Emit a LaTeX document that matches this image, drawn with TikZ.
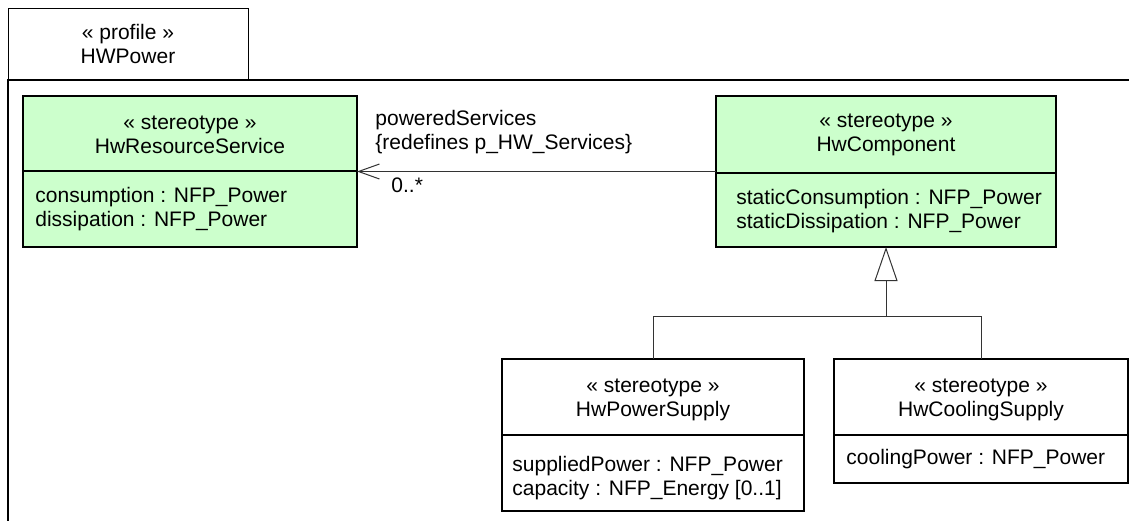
\documentclass[tikz,border=0pt]{standalone}
\usepackage{fontspec}
\setmainfont{Liberation Sans}
\usetikzlibrary{arrows.meta}
\definecolor{stereogreen}{RGB}{204,255,204}

\begin{document}
\begin{tikzpicture}[x=0.5pt,y=-0.5pt,line join=miter,
  classbox/.style={draw=black,line width=0.6pt,inner sep=0pt,outer sep=0pt},
  txt/.style={font=\fontsize{10.5pt}{12pt}\selectfont,inner sep=0pt,align=center},
  attrs/.style={txt,align=left,anchor=west},
  conn/.style={black!80,line width=0.5pt},
  frame/.style={line width=0.9pt}]
  \useasboundingbox (0,0) rectangle (1129,521);
  % profile frame and its tab
  \node[draw,line width=0.5pt,outer sep=0pt,minimum width=120pt,minimum height=36pt,txt]
    (tab) at (128,44) {« profile »\\HWPower};
  \draw[frame] (1129,80) -- (tab.south west) -- (8,521);
  % stereotypes
  \node[classbox,fill=stereogreen,minimum width=167pt,minimum height=75.5pt] (hrs) at (190,171.5) {};
  \draw[classbox] (hrs.west |- 0,171) -- (hrs.east |- 0,171);
  \node[txt] (hrs-name) at (190,135) {« stereotype »\\HwResourceService};
  \node[attrs] (hrs-attr) at (35,209) {consumption : NFP\_Power\\dissipation : NFP\_Power};
  \node[classbox,fill=stereogreen,minimum width=170pt,minimum height=75.5pt] (hc) at (886,171.5) {};
  \draw[classbox] (hc.west |- 0,173) -- (hc.east |- 0,173);
  \node[txt] (hc-name) at (886,135) {« stereotype »\\HwComponent};
  \node[attrs] (hc-attr) at (736,211) {staticConsumption : NFP\_Power\\staticDissipation : NFP\_Power};
  \node[classbox,fill=white,minimum width=151pt,minimum height=76pt] (hps) at (653,435) {};
  \draw[classbox] (hps.west |- 0,435) -- (hps.east |- 0,435);
  \node[txt] (hps-name) at (653,400) {« stereotype »\\HwPowerSupply};
  \node[attrs] (hps-attr) at (512,478) {suppliedPower : NFP\_Power\\capacity : NFP\_Energy [0..1]};
  \node[classbox,fill=white,minimum width=147pt,minimum height=62pt] (hcs) at (981,421) {};
  \draw[classbox] (hcs.west |- 0,435) -- (hcs.east |- 0,435);
  \node[txt] (hcs-name) at (981,400) {« stereotype »\\HwCoolingSupply};
  \node[attrs] (hcs-attr) at (846,459) {coolingPower : NFP\_Power};
  % association
  \draw[conn,-{Straight Barb[length=10.5pt,width=7.5pt]}] (hc) -- (hrs);
  \node[txt,align=left,anchor=west] (role) at (375,132) {poweredServices\\\{redefines p\_HW\_Services\}};
  \node[txt,anchor=base west] (mult) at (391,192) {0..*};
  % generalization
  \coordinate (fork) at (886,316);
  \draw[conn] (hps.north) |- (fork) -| (hcs.north);
  \draw[conn,-{Triangle[open,length=17pt,width=11.5pt]}] (fork) -- (hc.south);
\end{tikzpicture}
\end{document}
